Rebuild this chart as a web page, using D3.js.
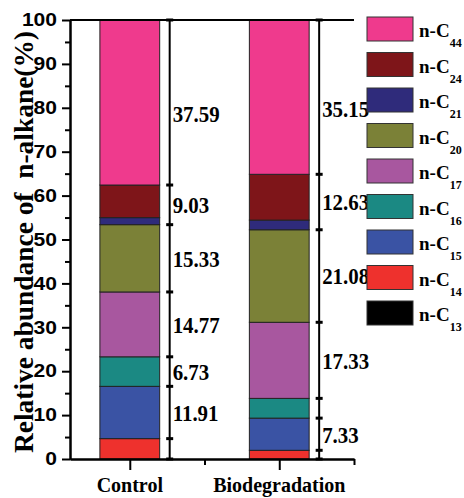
<!DOCTYPE html>
<html>
<head>
<meta charset="utf-8">
<script src="https://cdn.jsdelivr.net/npm/d3@7"></script>
<style>
  body { margin: 0; background: #fff; }
  svg { display: block; }
  .serif { font-family: "Liberation Serif", "Times New Roman", serif; font-weight: bold; }
  .sans { font-family: "Liberation Sans", Arial, sans-serif; font-weight: bold; }
</style>
</head>
<body>
<svg id="chart"></svg>
<script>
var categories = ["Control", "Biodegradation"]
var series = ["n-C13", "n-C14", "n-C15", "n-C16", "n-C17", "n-C20", "n-C21", "n-C24", "n-C44"]
var controlValues = [0, 4.64, 11.91, 6.73, 14.77, 15.33, 1.60, 7.43, 37.59]
var biodegValues = [0, 1.98, 7.33, 4.50, 17.33, 21.08, 2.20, 10.43, 35.15]
var colors = ["#000000", "#ee312d", "#3a53a4", "#1b8983", "#a8579f", "#7b8137", "#2f2b7b", "#7e1519", "#ef3a8d"]
// bracket groups (series indices) drawn beside each bar
var groups = [[0, 1], [2], [3], [4], [5], [6, 7], [8]]
var yTicks = d3.range(0, 101, 10)
var yMinorTicks = d3.range(5, 100, 10)

var dimensions = {
    width: 464,
    height: 498,
    margin: { top: 20, bottom: 39, left: 70, right: 110 }
}

var svg = d3.select("#chart")
    .attr("width", dimensions.width)
    .attr("height", dimensions.height)

var rows = categories.map(function (c, i) {
    var vals = i == 0 ? controlValues : biodegValues
    var row = { category: c, index: i + 1 }
    series.forEach(function (s, j) { row[s] = vals[j] })
    return row
})

var stacked = d3.stack().keys(series)(rows)

var xScale = d3.scaleLinear()
    .domain([0.6, 2.5])
    .range([dimensions.margin.left, 354])

var yScale = d3.scaleLinear()
    .domain([0, 100])
    .range([dimensions.height - dimensions.margin.bottom, dimensions.margin.top])

var barW = xScale(1.4) - xScale(1)

// bars
svg.append("g")
    .selectAll("g")
    .data(stacked)
    .enter()
    .append("g")
    .attr("fill", (d, i) => colors[i])
    .selectAll("rect")
    .data(d => d.filter(p => p[1] - p[0] > 0))
    .enter()
    .append("rect")
    .attr("x", d => xScale(d.data.index) - barW / 2)
    .attr("y", d => yScale(d[1]))
    .attr("width", barW)
    .attr("height", d => yScale(d[0]) - yScale(d[1]))
    .attr("stroke", "#222")
    .attr("stroke-width", 1)

// brackets + labels
rows.forEach(function (row, r) {
    var vals = r == 0 ? controlValues : biodegValues
    var bx = xScale(row.index) + barW / 2 + 10
    var g = svg.append("g")
    g.append("line")
        .attr("x1", bx).attr("x2", bx)
        .attr("y1", yScale(0)).attr("y2", yScale(100))
        .attr("stroke", "#000").attr("stroke-width", 2)
    var cum = 0
    var caps = [0]
    groups.forEach(function (grp) {
        var sum = d3.sum(grp, k => vals[k])
        var lo = cum
        cum += sum
        caps.push(cum)
        if (sum >= 5) {
            var mid = (lo + Math.min(cum, 95)) / 2
            g.append("text")
                .attr("class", "serif")
                .attr("font-size", 24)
                .attr("dy", "0.35em")
                .attr("transform", "translate(" + (bx + 3) + "," + yScale(mid) + ") scale(0.87,1)")
                .text(sum.toFixed(2))
        }
    })
    g.selectAll(".cap")
        .data(caps)
        .enter()
        .append("line")
        .attr("x1", bx - 3.5).attr("x2", bx + 3.5)
        .attr("y1", d => yScale(d)).attr("y2", d => yScale(d))
        .attr("stroke", "#000").attr("stroke-width", 3)
})

// top frame line
svg.append("line")
    .attr("x1", xScale(0.6)).attr("x2", xScale(2.5))
    .attr("y1", yScale(100)).attr("y2", yScale(100))
    .attr("stroke", "#000").attr("stroke-width", 2)

// y axis
var yAxis = d3.axisLeft(yScale).tickValues(yTicks).tickSize(8).tickSizeOuter(0)
var yG = svg.append("g")
    .attr("transform", "translate(" + dimensions.margin.left + ",0)")
    .call(yAxis)
yG.selectAll("text")
    .attr("class", "sans")
    .attr("font-size", 18)
    .attr("x", null)
    .attr("transform", "translate(-13,0) scale(1.17,1)")
yG.append("g")
    .call(d3.axisLeft(yScale).tickValues(yMinorTicks).tickSize(5).tickFormat("").tickSizeOuter(0))
svg.selectAll(".domain, .tick line").attr("stroke", "#000").attr("stroke-width", 2)

// x axis
var xG = svg.append("g")
    .attr("transform", "translate(0," + yScale(0) + ")")
    .call(d3.axisBottom(xScale).tickValues([1, 2]).tickSize(11).tickSizeOuter(0).tickFormat(""))
xG.append("g")
    .call(d3.axisBottom(xScale).tickValues([1.5, 2.5]).tickSize(6).tickSizeOuter(0).tickFormat(""))
xG.selectAll(".domain, .tick line").attr("stroke", "#000").attr("stroke-width", 2)
xG.selectAll(".xlabel")
    .data(rows)
    .enter()
    .append("text")
    .attr("class", "serif")
    .attr("font-size", 22)
    .attr("fill", "#000")
    .attr("text-anchor", "middle")
    .attr("transform", d => "translate(" + xScale(d.index) + ",33) scale(0.91,1)")
    .text(d => d.category)

// y title
svg.append("text")
    .attr("class", "serif")
    .attr("font-size", 28)
    .attr("text-anchor", "middle")
    .attr("textLength", 422)
    .attr("lengthAdjust", "spacingAndGlyphs")
    .style("white-space", "pre")
    .attr("transform", "translate(33,242) rotate(-90)")
    .text("Relative abundance of  n-alkane(%)")

// legend
var legend = svg.append("g")
    .selectAll("g")
    .data(series.slice().reverse())
    .enter()
    .append("g")
    .attr("transform", (d, i) => "translate(367," + (17 + i * 35.5) + ")")
legend.append("rect")
    .attr("width", 46)
    .attr("height", 24)
    .attr("fill", d => colors[series.indexOf(d)])
    .attr("stroke", "#333")
    .attr("stroke-width", 1)
var lt = legend.append("text")
    .attr("class", "serif")
    .attr("x", 52)
    .attr("y", 20)
    .attr("font-size", 19)
lt.append("tspan").text(d => d.slice(0, 3))
lt.append("tspan")
    .attr("font-size", 12)
    .attr("dy", 10)
    .text(d => d.slice(3))
</script>
</body>
</html>
